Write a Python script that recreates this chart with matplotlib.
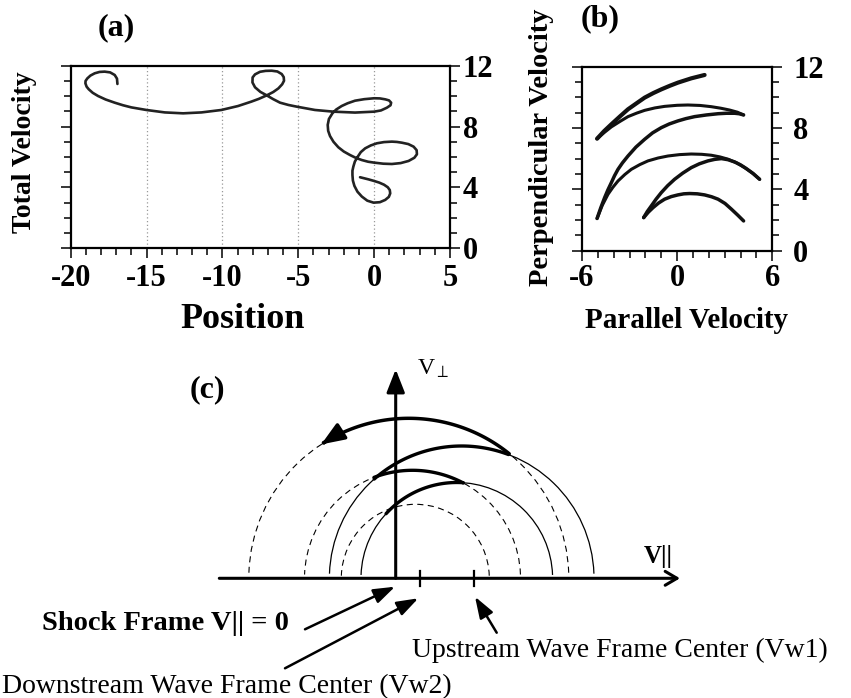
import numpy as np
import matplotlib.pyplot as plt
from matplotlib.patches import Arc, FancyArrowPatch
from matplotlib.path import Path

plt.rcParams['font.family'] = ['Liberation Serif', 'DejaVu Serif']
plt.rcParams['axes.unicode_minus'] = False
plt.rcParams['mathtext.fontset'] = 'stix'

# ---- (a) trajectory: position vs total velocity ----
pos_a = [-16.92, -16.95, -17.10, -17.40, -17.76, -18.10, -18.42, -18.70, -18.90, -19.02,
         -19.03, -18.95, -18.81, -18.55, -18.20, -17.70, -17.10, -16.55, -16.00, -15.01,
         -13.80, -12.59, -11.38, -10.07, -8.97, -8.09, -7.60, -7.08, -6.65, -6.31,
         -6.06, -5.94, -5.96, -6.09, -6.38, -6.75, -7.15, -7.52, -7.85, -8.01,
         -8.02, -7.85, -7.50, -7.08, -6.65, -6.20, -5.65, -5.11, -3.90, -2.69,
         -1.26, 0.00, 0.45, 0.84, 1.08, 1.12, 0.98, 0.73, 0.38, 0.00,
         -0.65, -1.26, -1.75, -2.14, -2.50, -2.75, -2.98, -3.06, -3.03, -2.91,
         -2.68, -2.36, -2.00, -1.59, -1.20, -0.81, -0.40, 0.00, 0.60, 1.17,
         1.75, 2.27, 2.65, 2.82, 2.80, 2.60, 2.25, 1.83, 1.50, 1.17,
         0.65, 0.18, -0.22, -0.59, -0.88, -1.08, -1.27, -1.37, -1.43, -1.43,
         -1.40, -1.30, -1.10, -0.81, -0.45, -0.04, 0.38, 0.73, 0.97, 1.06,
         1.03, 0.90, 0.65, 0.33, -0.02, -0.37, -0.93]
vel_a = [10.80, 11.15, 11.39, 11.56, 11.61, 11.59, 11.50, 11.35, 11.17, 11.00,
         10.84, 10.62, 10.45, 10.22, 10.01, 9.78, 9.57, 9.40, 9.26, 9.09,
         8.93, 8.87, 8.93, 9.09, 9.35, 9.64, 9.82, 10.05, 10.27, 10.51,
         10.78, 11.01, 11.25, 11.45, 11.62, 11.67, 11.66, 11.60, 11.43, 11.23,
         10.90, 10.58, 10.28, 10.05, 9.80, 9.57, 9.42, 9.31, 9.09, 8.98,
         8.92, 8.98, 9.06, 9.24, 9.40, 9.57, 9.72, 9.79, 9.85, 9.86,
         9.80, 9.70, 9.53, 9.35, 9.12, 8.87, 8.50, 8.11, 7.72, 7.38,
         7.00, 6.64, 6.36, 6.13, 5.94, 5.80, 5.69, 5.63, 5.56, 5.54,
         5.60, 5.74, 5.95, 6.18, 6.45, 6.68, 6.85, 6.94, 6.99, 7.01,
         6.98, 6.90, 6.76, 6.57, 6.32, 6.02, 5.70, 5.37, 5.10, 4.82,
         4.45, 4.10, 3.72, 3.40, 3.13, 3.00, 3.03, 3.18, 3.38, 3.61,
         3.83, 4.01, 4.18, 4.32, 4.43, 4.53, 4.67]
grid_a = [-15, -10, -5, 0]

# ---- (b) velocity space arcs ----
b1_x = [-5.05, -4.60, -4.15, -3.60, -3.10, -2.55, -2.05, -1.50, -1.00, -0.45, 0.05, 0.89, 1.73]
b1_y = [7.30, 7.80, 8.24, 8.76, 9.22, 9.62, 9.98, 10.28, 10.52, 10.76, 10.96, 11.24, 11.46]
b2_x = [-5.05, -4.60, -4.15, -3.60, -3.10, -2.55, -2.05, -1.40, -0.79, 0.00, 0.68, 1.45,
        2.15, 2.75, 3.31, 3.80, 4.19]
b2_y = [7.30, 7.70, 8.07, 8.43, 8.74, 8.97, 9.15, 9.31, 9.41, 9.48, 9.50, 9.47,
        9.39, 9.29, 9.17, 9.03, 8.85]
b3_x = [4.19, 3.90, 3.63, 3.10, 2.58, 1.85, 1.10, 0.55, 0.05, -0.50, -1.00, -1.55,
        -2.05, -2.60, -3.10, -3.45, -3.73, -3.95, -4.15, -4.37, -4.57, -4.82, -5.05]
b3_y = [8.85, 8.93, 8.96, 8.96, 8.93, 8.85, 8.74, 8.61, 8.46, 8.26, 8.02, 7.68,
        7.26, 6.75, 6.17, 5.72, 5.30, 4.88, 4.43, 3.95, 3.46, 2.78, 2.09]
b4_x = [-5.05, -4.72, -4.36, -4.05, -3.73, -3.30, -2.89, -2.35, -1.84, -1.20, -0.58,
        0.15, 0.89, 1.55, 2.15, 2.70, 3.21, 3.75, 4.26, 4.75, 5.20]
b4_y = [2.09, 2.95, 3.67, 4.13, 4.54, 4.96, 5.30, 5.61, 5.85, 6.04, 6.17,
        6.26, 6.30, 6.28, 6.22, 6.11, 5.96, 5.72, 5.41, 5.05, 4.65]
b5_x = [-2.11, -1.88, -1.63, -1.33, -1.00, -0.60, -0.16, 0.35, 0.89, 1.40, 1.94,
        2.37, 2.79, 3.20, 3.63, 4.00, 4.36, 4.80, 5.20]
b5_y = [2.15, 2.55, 2.91, 3.35, 3.78, 4.23, 4.65, 5.05, 5.41, 5.66, 5.85,
        5.95, 6.00, 5.93, 5.78, 5.59, 5.35, 5.02, 4.65]
b6_x = [-2.11, -1.82, -1.52, -1.17, -0.79, -0.37, 0.05, 0.42, 0.79, 1.27, 1.73,
        2.17, 2.58, 3.02, 3.42, 3.82, 4.19]
b6_y = [2.15, 2.50, 2.80, 3.10, 3.35, 3.52, 3.63, 3.70, 3.72, 3.70, 3.63,
        3.51, 3.35, 3.07, 2.70, 2.31, 1.93]

# ---- (c) schematic: gyration circles (V|| centre, radius) ----
dash_c = [19.6, 16.8, 13.1]
dash_r = [74.0, 108.0, 160.0]
solid_c = [61.1, 66.0]
solid_r = [95.8, 132.3]
# thick trajectory pieces: centre, radius, start angle, end angle (deg)
thick_arcs = [(61.1, 95.8, 137.6, 86.1),
              (16.8, 108.0, 110.9, 62.0),
              (66.0, 132.3, 131.4, 69.3)]
arrow_arc = (13.1, 160.0, 51.1, 123.2)
vw2, vw1 = 24.3, 78.3

W, H = 851, 698
fig = plt.figure(figsize=(W / 100, H / 100), dpi=100)


def box(l, t, r, b):
    return [l / W, 1 - b / H, (r - l) / W, (b - t) / H]


def style(ax, xmaj, xmin, pad_y, pad_x):
    for s in ax.spines.values():
        s.set_linewidth(1.6)
    ax.set_xticks(xmaj)
    ax.set_xticks(xmin, minor=True)
    ax.set_yticks([0, 4, 8, 12])
    ax.set_yticks(np.arange(0, 13, 1), minor=True)
    ax.tick_params(which='both', direction='out', width=1.1, left=True, right=True,
                   top=False, labelleft=False, labelright=True, labelsize=22)
    ax.tick_params(which='major', length=7)
    ax.tick_params(which='minor', length=5)
    ax.tick_params(axis='y', pad=pad_y)
    ax.tick_params(axis='x', pad=pad_x)
    for lab in ax.get_xticklabels() + ax.get_yticklabels():
        lab.set_fontweight('bold')


ax1 = fig.add_axes(box(70.7, 65.7, 450, 248.3))
for g in grid_a:
    ax1.axvline(g, color='#999999', lw=0.9, ls=(0, (1, 2)), zorder=0)
ax1.plot(pos_a, vel_a, color='#222222', lw=1.9, solid_joinstyle='round', solid_capstyle='round')
ax1.set_xlim(-20, 5)
ax1.set_ylim(0, 12)
style(ax1, [-20, -15, -10, -5, 0, 5], np.arange(-20, 6, 1), 2, 4)

ax2 = fig.add_axes(box(582, 66.7, 772.3, 250.5))
for xs, ys, lw in [(b1_x, b1_y, 3.0), (b2_x, b2_y, 2.2), (b3_x, b3_y, 2.5),
                   (b4_x, b4_y, 2.2), (b5_x, b5_y, 2.5), (b6_x, b6_y, 2.5)]:
    ax2.plot(xs, ys, color='#111111', lw=lw, solid_joinstyle='round', solid_capstyle='round')
ax2.set_xlim(-6, 6)
ax2.set_ylim(0, 12)
style(ax2, [-6, 0, 6], np.arange(-6, 7, 1), 8, 3)

fig.text(116 / W, 1 - 27.5 / H, '(a)', ha='center', va='center', fontsize=23, weight='bold')
fig.text(25 / W, 1 - 152 / H, 'Total Velocity', rotation=90, ha='center', va='center',
         fontsize=20, weight='bold')
fig.text(242.5 / W, 1 - 328 / H, 'Position', ha='center', va='baseline', fontsize=26, weight='bold')
fig.text(600 / W, 1 - 18.5 / H, '(b)', ha='center', va='center', fontsize=23, weight='bold')
fig.text(541.7 / W, 1 - 147.5 / H, 'Perpendicular Velocity', rotation=90, ha='center',
         va='center', fontsize=20.5, weight='bold')
fig.text(686.7 / W, 1 - 328 / H, 'Parallel Velocity', ha='center', va='baseline',
         fontsize=21, weight='bold')

# ---- (c) ----
x0, y0 = 395.7, 578.3
axc = fig.add_axes([0, 0, 1, 360 / H])
axc.set_xlim(-x0, W - x0)
axc.set_ylim(-(H - y0), y0 - 338)
axc.axis('off')

for c, r in zip(dash_c, dash_r):
    axc.add_patch(Arc((c, 0), 2 * r, 2 * r, theta1=2, theta2=178, color='k',
                      lw=0.8, ls=(0, (5.5, 4))))
for c, r in zip(solid_c, solid_r):
    axc.add_patch(Arc((c, 0), 2 * r, 2 * r, theta1=2, theta2=178, color='k', lw=0.9))

for c, r, t1, t2 in thick_arcs:
    t = np.radians(np.linspace(t1, t2, 60))
    axc.plot(c + r * np.cos(t), r * np.sin(t), color='k', lw=2.4, solid_capstyle='round')

c, r, t1, t2 = arrow_arc
t = np.radians(np.linspace(t1, t2, 80))
axc.add_patch(FancyArrowPatch(path=Path(np.column_stack([c + r * np.cos(t), r * np.sin(t)])),
                              arrowstyle='-|>,head_length=14,head_width=5.5',
                              mutation_scale=1, lw=2.5, color='k'))

axc.annotate('', xy=(284.3, 0), xytext=(-176.4, 0),
             arrowprops=dict(arrowstyle='->,head_length=8.5,head_width=5', mutation_scale=1,
                             lw=2.2, color='k', shrinkA=0, shrinkB=0))
axc.annotate('', xy=(0, 209), xytext=(0, 0),
             arrowprops=dict(arrowstyle='-|>,head_length=14,head_width=5.5', mutation_scale=1,
                             lw=2.2, color='k', shrinkA=0, shrinkB=0))
for v in [vw2, vw1]:
    axc.plot([v, v], [-7.7, 7.7], color='k', lw=1.6)

head = dict(arrowstyle='-|>,head_length=13,head_width=4.5', mutation_scale=1,
            lw=1.8, color='k', shrinkA=0, shrinkB=0)
axc.annotate('', xy=(-0.7, -8.4), xytext=(-90.7, -51), arrowprops=head)
axc.annotate('', xy=(vw2 - 1.7, -20), xytext=(-110.7, -90), arrowprops=head)
axc.annotate('', xy=(vw1 + 1, -18.4), xytext=(101, -54.4), arrowprops=head)

axc.text(-188.7, 188.3, '(c)', ha='center', va='center', fontsize=23, weight='bold')
axc.text(21, 209, 'V$_{\\perp}$', ha='left', va='center', fontsize=17)
axc.text(262.3, 21.3, 'V||', ha='center', va='center', fontsize=18, weight='bold')
axc.text(-354, -51.7, 'Shock Frame V|| = 0', ha='left', va='baseline', fontsize=20.5, weight='bold')
axc.text(16, -79, 'Upstream Wave Frame Center (Vw1)', ha='left', va='baseline', fontsize=20)
axc.text(-393.7, -114.7, 'Downstream Wave Frame Center (Vw2)', ha='left', va='baseline', fontsize=20)

fig.savefig('out.png', dpi=100)
